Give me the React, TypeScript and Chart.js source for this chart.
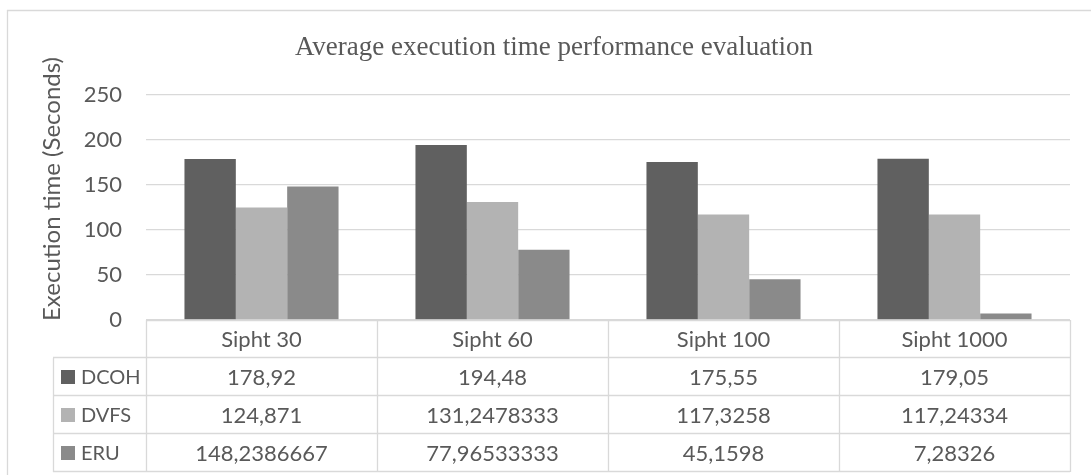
import React, { useEffect, useRef } from "react";
import { Chart, registerables } from "chart.js";

Chart.register(...registerables);

const categories = ["Sipht 30", "Sipht 60", "Sipht 100", "Sipht 1000"];
const seriesNames = ["DCOH", "DVFS", "ERU"];
const dcoh = [178.92, 194.48, 175.55, 179.05];
const dvfs = [124.871, 131.2478333, 117.3258, 117.24334];
const eru = [148.2386667, 77.96533333, 45.1598, 7.28326];
const seriesColors = ["#606060", "#b3b3b3", "#8a8a8a"];
const yTicks = [0, 50, 100, 150, 200, 250];
const titleText = "Average execution time performance evaluation";
const yTitle = "Execution time (Seconds)";

const TEXT = "#595959";
const LINE = "#d9d9d9";
const SANS = "Lato, 'Open Sans', sans-serif";
const SERIF = "'Liberation Serif', 'Times New Roman', serif";

const fmt = (v: number) => String(v).replace(".", ",");

const tablePlugin = {
  id: "dataTable",
  afterDraw(chart: any) {
    const ctx = chart.ctx;
    const area = chart.chartArea;
    const xs = chart.scales.x;
    const n = categories.length;
    const colW = (area.right - area.left) / n;
    const top = area.bottom;
    const rowH = 38;
    const legLeft = 53;
    const rows = [dcoh, dvfs, eru];
    ctx.save();
    // outer frame
    ctx.strokeStyle = LINE;
    ctx.lineWidth = 1.3;
    ctx.beginPath();
    ctx.moveTo(7, 10.5);
    ctx.lineTo(chart.width, 10.5);
    ctx.moveTo(7.5, 10);
    ctx.lineTo(7.5, chart.height);
    ctx.stroke();

    // chart title
    ctx.fillStyle = TEXT;
    ctx.font = "27px " + SERIF;
    ctx.textAlign = "center";
    ctx.textBaseline = "alphabetic";
    ctx.fillText(titleText, 554, 55);

    // table grid
    ctx.beginPath();
    ctx.moveTo(area.left, top + 0.5);
    ctx.lineTo(area.right, top + 0.5);
    for (let r = 1; r <= rows.length + 1; r++) {
      const y = Math.round(top + r * rowH) - 0.5;
      ctx.moveTo(legLeft, y);
      ctx.lineTo(area.right, y);
    }
    for (let c = 0; c <= n; c++) {
      const x = Math.round(area.left + c * colW) + 0.5;
      ctx.moveTo(x, top);
      ctx.lineTo(x, top + (rows.length + 1) * rowH);
    }
    ctx.moveTo(legLeft + 0.5, top + rowH);
    ctx.lineTo(legLeft + 0.5, top + (rows.length + 1) * rowH);
    ctx.stroke();

    // text
    ctx.fillStyle = TEXT;
    ctx.font = "22px " + SANS;
    ctx.textBaseline = "middle";
    ctx.textAlign = "center";
    categories.forEach((c, i) => {
      ctx.fillText(c, xs.getPixelForValue(i), top + rowH / 2 + 1);
    });
    rows.forEach((vals, r) => {
      const cy = top + (r + 1) * rowH + rowH / 2 + 1;
      ctx.fillStyle = seriesColors[r];
      ctx.fillRect(61, cy - 8, 14, 14);
      ctx.fillStyle = TEXT;
      ctx.textAlign = "left";
      ctx.font = "20px " + SANS;
      ctx.fillText(seriesNames[r], 81, cy);
      ctx.font = "22px " + SANS;
      ctx.textAlign = "center";
      vals.forEach((v, i) => {
        ctx.fillText(fmt(v), xs.getPixelForValue(i), cy);
      });
    });

    // y axis title
    ctx.translate(52, 189);
    ctx.rotate(-Math.PI / 2);
    ctx.font = "24px " + SANS;
    ctx.textAlign = "center";
    ctx.textBaseline = "middle";
    ctx.fillText(yTitle, 0, 0);
    ctx.restore();
  },
};

export default function App() {
  const ref = useRef<HTMLCanvasElement>(null);
  useEffect(() => {
    const chart = new Chart(ref.current as HTMLCanvasElement, {
      type: "bar",
      data: {
        labels: categories,
        datasets: [dcoh, dvfs, eru].map((d, i) => ({
          label: seriesNames[i],
          data: d,
          backgroundColor: seriesColors[i],
          borderWidth: 0,
          categoryPercentage: 0.667,
          barPercentage: 1,
        })),
      },
      options: {
        animation: false,
        responsive: false,
        devicePixelRatio: 1,
        layout: { padding: { left: 0, right: 21, top: 95, bottom: 155 } },
        plugins: {
          legend: { display: false },
          tooltip: { enabled: false },
          title: { display: false },
        },
        scales: {
          x: { display: false },
          y: {
            min: 0,
            max: 250,
            afterFit: (s: any) => {
              s.width = 146;
            },
            afterBuildTicks: (s: any) => {
              s.ticks = yTicks.map((v) => ({ value: v }));
            },
            border: { display: false },
            grid: { color: LINE, lineWidth: 1.3, drawTicks: false },
            ticks: { color: TEXT, font: { family: SANS, size: 22 }, padding: 24 },
          },
        },
      },
      plugins: [tablePlugin],
    });
    return () => chart.destroy();
  }, []);
  return (
    <div style={{ position: "fixed", left: 0, top: 0, width: 1091, height: 475, background: "#fff" }}>
      <canvas ref={ref} width={1091} height={475} />
    </div>
  );
}
